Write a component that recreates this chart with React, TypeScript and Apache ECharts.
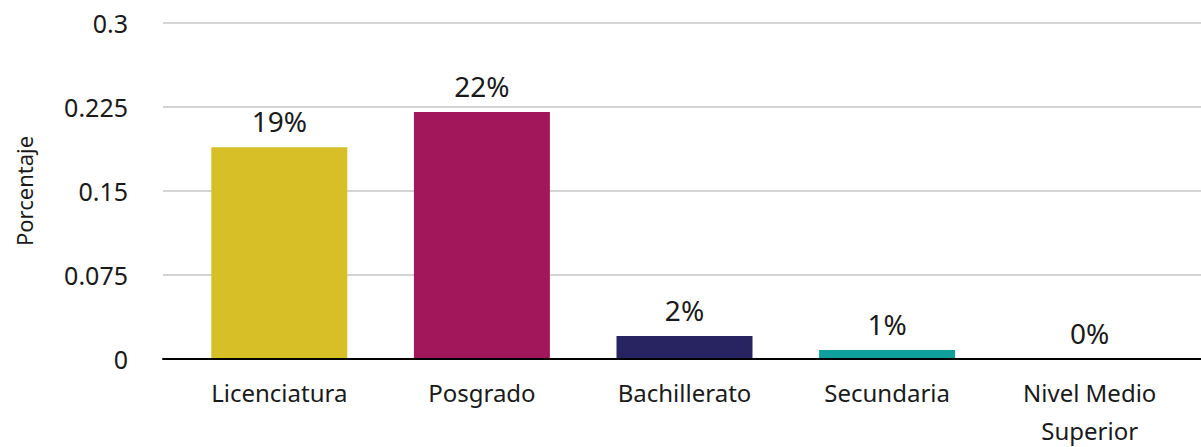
import React, { useEffect, useRef } from "react";
import * as echarts from "echarts";

const categories = ["Licenciatura", "Posgrado", "Bachillerato", "Secundaria", "Nivel Medio\nSuperior"];
const values = [0.189, 0.2205, 0.0205, 0.008, 0.0];
const barColors = ["#D7BF27", "#A2175B", "#282461", "#10A09B", "#888888"];
const yTicks = { min: 0, max: 0.3, interval: 0.075 };

const FONT = "'Noto Sans', sans-serif";
const TEXT = "#1a1a1a";

export default function App() {
  const ref = useRef<HTMLDivElement>(null);
  useEffect(() => {
    document.body.style.margin = "0";
    if (!ref.current) return;
    const chart = echarts.init(ref.current, undefined, { renderer: "svg" });
    chart.setOption({
      animation: false,
      backgroundColor: "#ffffff",
      textStyle: { fontFamily: FONT },
      grid: [
        { left: 163, right: 0, top: 23, bottom: 88, containLabel: false, outerBoundsMode: "none" },
        { left: 178, right: 10, top: 23, bottom: 88, containLabel: false, outerBoundsMode: "none" },
      ],
      xAxis: [
        {
          gridIndex: 0,
          type: "value",
          min: 0,
          max: 1,
          axisLine: { show: true, onZero: false, lineStyle: { color: "#000", width: 2 } },
          axisTick: { show: false },
          axisLabel: { show: false },
          splitLine: { show: false },
          z: 5,
        },
        {
          gridIndex: 1,
          type: "category",
          data: categories,
          axisLine: { show: false },
          axisTick: { show: false },
          axisLabel: {
            fontSize: 24,
            color: TEXT,
            fontFamily: FONT,
            margin: 14,
            lineHeight: 38,
            interval: 0,
          },
        },
      ],
      yAxis: [
        {
          gridIndex: 0,
          type: "value",
          min: yTicks.min,
          max: yTicks.max,
          interval: yTicks.interval,
          name: "Porcentaje",
          nameLocation: "middle",
          nameGap: 128,
          nameTextStyle: { fontSize: 22, color: TEXT, fontFamily: FONT },
          axisLine: { show: false },
          axisTick: { show: false },
          axisLabel: { fontSize: 25, color: TEXT, fontFamily: FONT, margin: 35 },
          splitLine: { show: true, lineStyle: { color: "#d4d4d4", width: 2 } },
        },
        {
          gridIndex: 1,
          type: "value",
          min: yTicks.min,
          max: yTicks.max,
          show: false,
          splitLine: { show: false },
        },
      ],
      series: [
        {
          type: "bar",
          xAxisIndex: 1,
          yAxisIndex: 1,
          barWidth: 136,
          data: values.map((v, i) => ({ value: v, itemStyle: { color: barColors[i] } })),
          label: {
            show: true,
            position: "top",
            distance: 12,
            fontSize: 28,
            color: TEXT,
            fontFamily: FONT,
            formatter: (p: any) => Math.round(p.value * 100) + "%",
          },
        },
      ],
    });
    return () => chart.dispose();
  }, []);
  return <div ref={ref} style={{ width: 1201, height: 447 }} />;
}
